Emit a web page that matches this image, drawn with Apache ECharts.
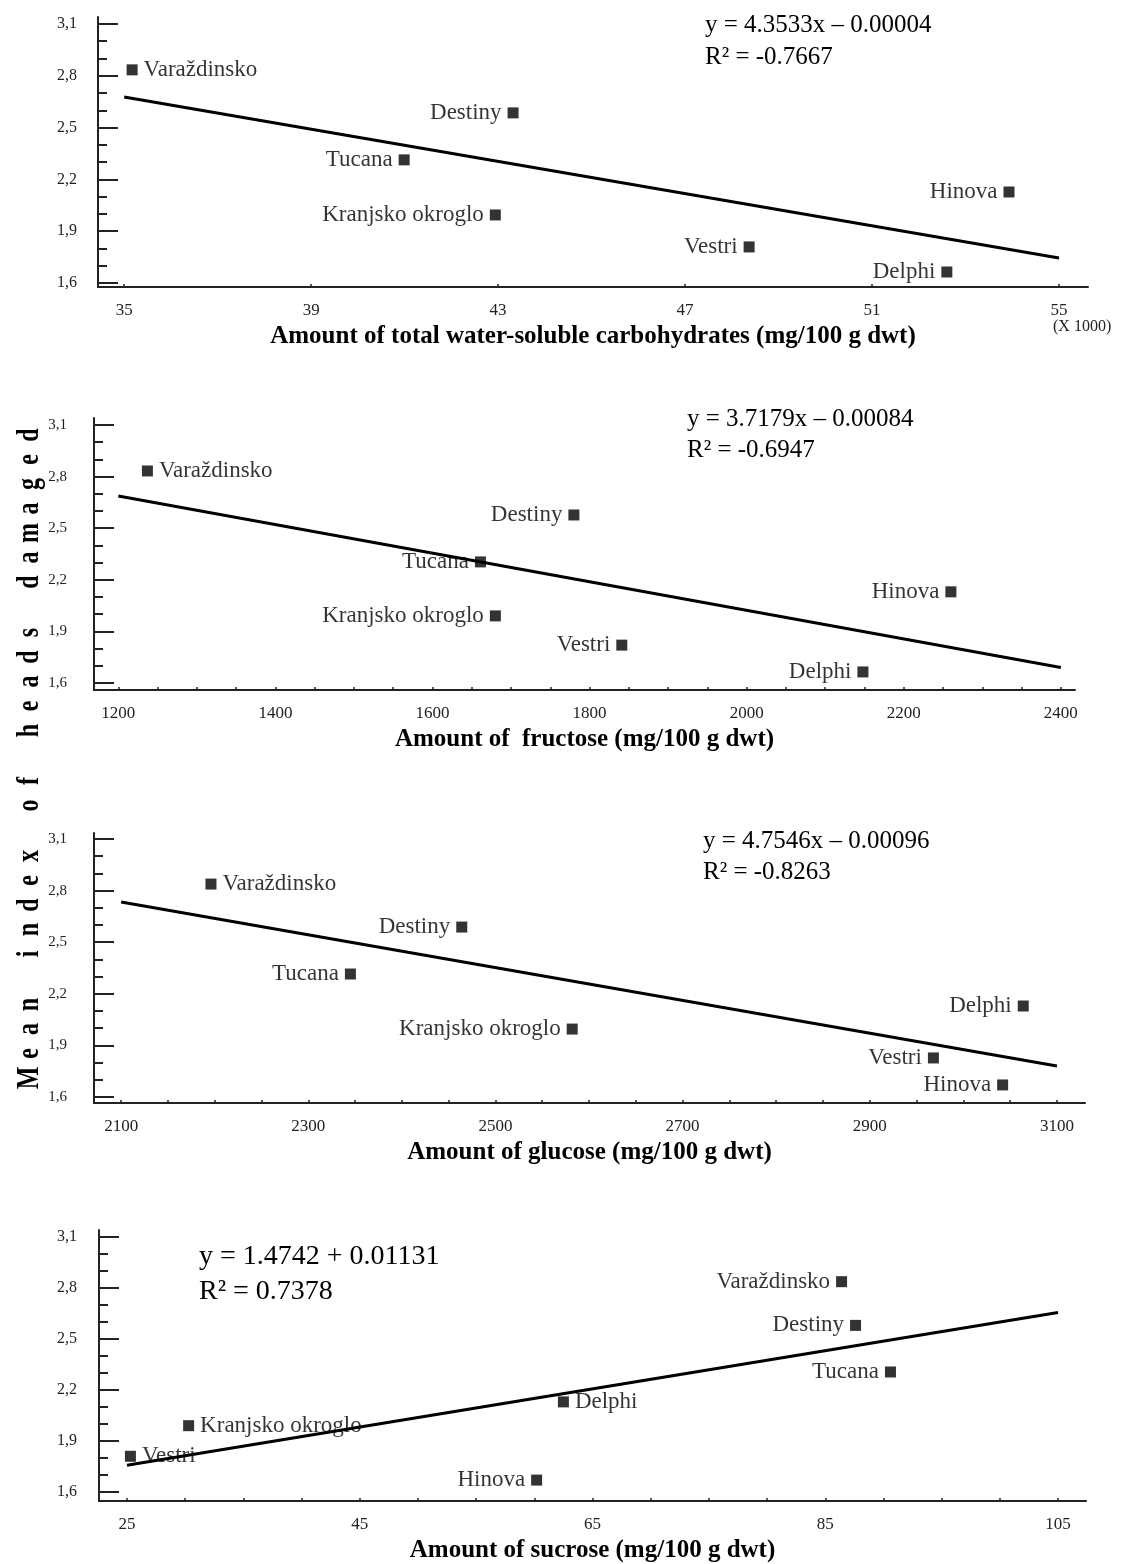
<!DOCTYPE html>
<html><head><meta charset="utf-8">
<script src="https://cdn.jsdelivr.net/npm/echarts@6/dist/echarts.min.js"></script>
<style>html,body{margin:0;padding:0;background:#fff}#c{width:1121px;height:1564px}</style>
</head><body><div id="c"></div>
<script>
// ---------- DATA ----------
// Panel 1: total water-soluble carbohydrates (x 1000 mg/100 g dwt)
const carbNames = ['Varaždinsko','Destiny','Tucana','Kranjsko okroglo','Hinova','Vestri','Delphi'];
const carbX = [35.17, 43.32, 40.99, 42.94, 53.93, 48.37, 52.60];
const carbY = [2.834, 2.585, 2.313, 1.994, 2.127, 1.809, 1.664];
const carbSides = ['right','left','left','left','left','left','left'];
const carbFitX = [35, 55];
const carbFitY = [2.677, 1.745];
const carbTicks = [35, 39, 43, 47, 51, 55];

// Panel 2: fructose
const fruNames = ['Varaždinsko','Destiny','Tucana','Kranjsko okroglo','Hinova','Vestri','Delphi'];
const fruX = [1237, 1780, 1661, 1680, 2260, 1841, 2148];
const fruY = [2.833, 2.577, 2.304, 1.990, 2.130, 1.820, 1.664];
const fruSides = ['right','left','left','left','left','left','left'];
const fruFitX = [1200, 2400];
const fruFitY = [2.687, 1.690];
const fruTicks = [1200, 1400, 1600, 1800, 2000, 2200, 2400];
const fruMinor = [1250,1300,1350,1450,1500,1550,1650,1700,1750,1850,1900,1950,2050,2100,2150,2250,2300,2350];

// Panel 3: glucose
const gluNames = ['Varaždinsko','Destiny','Tucana','Kranjsko okroglo','Delphi','Vestri','Hinova'];
const gluX = [2196, 2464, 2345, 2582, 3064, 2968, 3042];
const gluY = [2.838, 2.588, 2.315, 1.995, 2.129, 1.827, 1.670];
const gluSides = ['right','left','left','left','left','left','left'];
const gluFitX = [2100, 3100];
const gluFitY = [2.734, 1.780];
const gluTicks = [2100, 2300, 2500, 2700, 2900, 3100];
const gluMinor = [2150,2200,2250,2350,2400,2450,2550,2600,2650,2750,2800,2850,2950,3000,3050];

// Panel 4: sucrose
const sucNames = ['Vestri','Kranjsko okroglo','Delphi','Hinova','Varaždinsko','Destiny','Tucana'];
const sucX = [25.3, 30.3, 62.5, 60.2, 86.4, 87.6, 90.6];
const sucY = [1.810, 1.990, 2.130, 1.670, 2.837, 2.580, 2.306];
const sucSides = ['right','right','right','left','left','left','left'];
const sucFitX = [25, 105];
const sucFitY = [1.757, 2.656];
const sucTicks = [25, 45, 65, 85, 105];
const sucMinor = [30,35,40,50,55,60,70,75,80,90,95,100];

// Y axis ticks (shared)
const yMajor = [1.6, 1.9, 2.2, 2.5, 2.8, 3.1];
const yMinor = [1.7, 1.8, 2.0, 2.1, 2.3, 2.4, 2.6, 2.7, 2.9, 3.0];

// Texts
const xTitles = [
  'Amount of total water-soluble carbohydrates (mg/100 g dwt)',
  'Amount of  fructose (mg/100 g dwt)',
  'Amount of glucose (mg/100 g dwt)',
  'Amount of sucrose (mg/100 g dwt)'
];
const eqLines = [
  ['y = 4.3533x – 0.00004', 'R² = -0.7667'],
  ['y = 3.7179x – 0.00084', 'R² = -0.6947'],
  ['y = 4.7546x – 0.00096', 'R² = -0.8263'],
  ['y = 1.4742 + 0.01131', 'R² = 0.7378']
];
const yTitle = 'Mean index of heads damaged';
const scaleNote = '(X 1000)';

// ---------- LAYOUT ----------
const SERIF = '"Liberation Serif","Times New Roman",serif';
const panels = [
  {names:carbNames, xs:carbX, ys:carbY, sides:carbSides, fx:carbFitX, fy:carbFitY, major:carbTicks, minor:[],
   grid:{left:98, top:17, width:990, height:270}, xMin:34.44, xMax:55.62, yMin:1.577, yMax:3.14, yLM:21, yLS:16},
  {names:fruNames, xs:fruX, ys:fruY, sides:fruSides, fx:fruFitX, fy:fruFitY, major:fruTicks, minor:fruMinor,
   grid:{left:94, top:418, width:981, height:272}, xMin:1169, xMax:2418, yMin:1.559, yMax:3.141, yLM:27, yLS:15},
  {names:gluNames, xs:gluX, ys:gluY, sides:gluSides, fx:gluFitX, fy:gluFitY, major:gluTicks, minor:gluMinor,
   grid:{left:94, top:833, width:991, height:270}, xMin:2071, xMax:3130, yMin:1.565, yMax:3.135, yLM:27, yLS:15},
  {names:sucNames, xs:sucX, ys:sucY, sides:sucSides, fx:sucFitX, fy:sucFitY, major:sucTicks, minor:sucMinor,
   grid:{left:99, top:1230, width:987, height:273}, xMin:22.6, xMax:107.4, yMin:1.547, yMax:3.141, yLM:22, yLS:16}
];
const eqPos = [
  {x:705, y1:25, y2:57, size:25},
  {x:687, y1:419, y2:450, size:25},
  {x:703, y1:841, y2:872, size:25},
  {x:199, y1:1257, y2:1292, size:28}
];

const grids = [], xAxes = [], yAxes = [], series = [];
panels.forEach((p, i) => {
  grids.push(Object.assign({containLabel:false}, p.grid));
  xAxes.push({
    type:'value', gridIndex:i, min:p.xMin, max:p.xMax,
    name: xTitles[i], nameLocation:'middle', nameGap:37,
    nameTextStyle:{fontFamily:SERIF, fontWeight:'bold', fontSize:25, color:'#000'},
    axisLine:{show:true, onZero:false, lineStyle:{color:'#222', width:2}},
    axisTick:{show:true, inside:true, length:3, customValues:p.major.concat(p.minor), lineStyle:{color:'#222', width:1.5}},
    axisLabel:{show:true, customValues:p.major, margin:15, fontFamily:SERIF, fontSize:17, color:'#222',
      formatter:v => String(Math.round(v))},
    splitLine:{show:false}
  });
  yAxes.push({
    type:'value', gridIndex:i, position:'left', min:p.yMin, max:p.yMax,
    axisLine:{show:true, onZero:false, lineStyle:{color:'#222', width:2}},
    axisTick:{show:true, inside:true, length:20, customValues:yMajor, lineStyle:{color:'#222', width:2}},
    axisLabel:{show:true, customValues:yMajor, margin:p.yLM, fontFamily:SERIF, fontSize:p.yLS, color:'#222',
      formatter:v => v.toFixed(1).replace('.', ',')},
    splitLine:{show:false}
  });
  yAxes.push({
    type:'value', gridIndex:i, position:'left', offset:0, min:p.yMin, max:p.yMax,
    axisLine:{show:false},
    axisTick:{show:true, inside:true, length:9, customValues:yMinor, lineStyle:{color:'#222', width:2}},
    axisLabel:{show:false},
    splitLine:{show:false}
  });
  series.push({
    type:'line', xAxisIndex:i, yAxisIndex:2*i, showSymbol:false, symbol:'none', silent:true,
    data: p.fx.map((x, k) => [x, p.fy[k]]),
    lineStyle:{color:'#000', width:3}, z:2
  });
  series.push({
    type:'scatter', xAxisIndex:i, yAxisIndex:2*i, symbol:'rect', symbolSize:11, z:3,
    itemStyle:{color:'#000'},
    label:{show:true, formatter:'{b}', fontFamily:SERIF, fontSize:23, color:'#000', distance:6},
    data: p.names.map((n, k) => ({name:n, value:[p.xs[k], p.ys[k]], label:{position:p.sides[k]}}))
  });
});

// graphic: equations, vertical y title, scale note
const graphic = [];
eqLines.forEach((lines, i) => {
  const e = eqPos[i];
  graphic.push({type:'text', x:e.x, y:e.y1, style:{text:lines[0], font:`${e.size}px ${SERIF}`, fill:'#000', verticalAlign:'middle'}});
  graphic.push({type:'text', x:e.x, y:e.y2, style:{text:lines[1], font:`${e.size}px ${SERIF}`, fill:'#000', verticalAlign:'middle'}});
});
graphic.push({type:'text', x:1053, y:327, style:{text:scaleNote, font:`16px ${SERIF}`, fill:'#222', verticalAlign:'middle'}});

let yy = 1078;
for (const ch of yTitle) {
  if (ch === ' ') { yy -= 26; continue; }
  graphic.push({type:'text', x:30, y:yy, rotation:Math.PI/2, scaleY:1.35,
    style:{text:ch, font:`bold 24px ${SERIF}`, fill:'#000', align:'center', verticalAlign:'middle'}});
  yy -= 24.5;
}

const chart = echarts.init(document.getElementById('c'));
chart.setOption({
  animation:false,
  backgroundColor:'#fff',
  grid:grids, xAxis:xAxes, yAxis:yAxes, series:series, graphic:graphic
});
</script></body></html>
